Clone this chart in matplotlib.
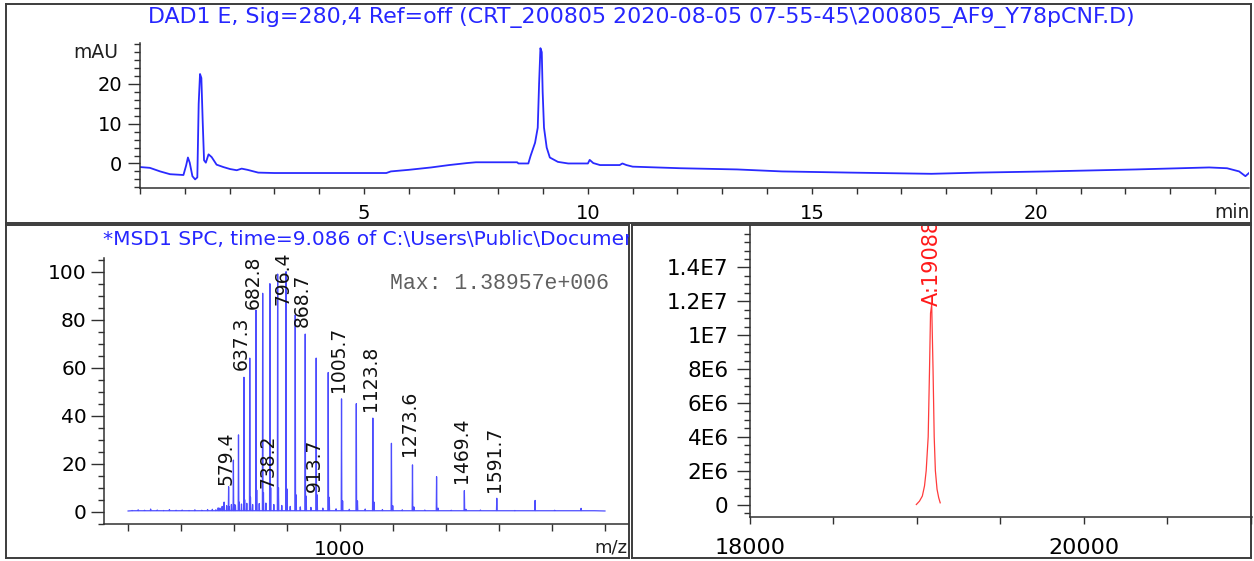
import matplotlib
matplotlib.use("Agg")
import matplotlib.pyplot as plt
from matplotlib.ticker import MultipleLocator
import numpy as np

plt.rcParams["font.family"] = ["DejaVu Sans"]

W, H = 1254, 561

# ── DAD chromatogram (280 nm) ──
dad_time = [0.0, 0.22, 0.45, 0.67, 0.97, 1.03, 1.07, 1.11, 1.17, 1.23, 1.28, 1.31,
            1.34, 1.37, 1.40, 1.43, 1.47, 1.53, 1.60, 1.71, 1.86, 2.01, 2.16, 2.27,
            2.40, 2.64, 3.0, 5.5, 5.6, 6.0, 6.5, 6.9, 7.3, 7.5, 8.42, 8.45, 8.67,
            8.72, 8.82, 8.88, 8.91, 8.94, 8.97, 8.99, 9.02, 9.08, 9.15, 9.33, 9.56,
            10.0, 10.04, 10.12, 10.27, 10.71, 10.77, 10.86, 11.0, 12.07, 13.33,
            14.33, 15.87, 17.67, 18.71, 20.25, 22.24, 23.87, 24.27, 24.54, 24.68, 24.77]
dad_mau = [-0.9, -1.1, -2.0, -2.7, -2.9, -0.5, 1.5, 0.2, -3.2, -4.0, -3.5, 15.0,
           22.5, 21.5, 10.5, 0.8, 0.2, 2.3, 1.6, -0.3, -0.9, -1.4, -1.7, -1.3,
           -1.6, -2.3, -2.4, -2.4, -2.0, -1.6, -1.0, -0.4, 0.1, 0.3, 0.3, 0.0, 0.0,
           1.9, 5.2, 9.0, 20.0, 29.0, 28.0, 18.0, 9.0, 4.0, 1.5, 0.4, 0.0,
           0.0, 0.9, 0.1, -0.4, -0.4, 0.0, -0.4, -0.8, -1.2, -1.5,
           -2.0, -2.3, -2.6, -2.3, -2.0, -1.5, -1.0, -1.2, -2.0, -3.2, -2.3]
dad_yticks = [0, 10, 20]
dad_xticks = [5, 10, 15, 20]
dad_title = "DAD1 E, Sig=280,4 Ref=off (CRT_200805 2020-08-05 07-55-45\\200805_AF9_Y78pCNF.D)"

# ── MS spectrum at 9.086 min (charge-state envelope, % of max) ──
ms_mz = [531.2, 546.4, 562.4, 579.4, 597.5, 616.7, 637.3, 659.2, 682.7, 708.0,
         735.2, 764.5, 796.3, 830.9, 868.6, 910.0, 955.4, 1005.6, 1061.4, 1123.8,
         1194.0, 1273.5, 1364.4, 1469.3, 1591.7, 1736.3, 1909.8]
ms_int = [0.8, 1.5, 4.0, 10.4, 21.5, 32.0, 56.0, 64.0, 84.0, 91.0,
          95.0, 99.0, 100.0, 82.0, 74.0, 64.0, 58.0, 47.0, 45.0, 39.0,
          28.5, 19.5, 14.6, 8.8, 5.6, 4.7, 1.4]
# adduct peaks
add_mz = [581.8, 599.9, 619.2, 639.9, 661.9, 685.5, 710.9, 738.2, 767.6, 799.6,
          834.3, 872.2, 913.7, 959.3, 1009.7, 1065.8, 1128.4, 1198.9, 1278.7,
          1370.0, 1475.3]
add_int = [2.0, 3.0, 4.0, 5.0, 6.0, 9.0, 8.0, 10.0, 10.0, 9.5,
           7.0, 6.5, 7.0, 6.0, 4.5, 4.5, 4.0, 2.5, 2.0, 1.5, 1.0]
# baseline noise
noise_mz = [215, 238, 262, 285, 310, 334, 356, 381, 404, 430, 452, 478, 500, 518,
            540, 555, 572, 590, 605, 628, 648, 670, 695, 720, 750, 780, 812, 850,
            890, 935, 985, 1035, 1095, 1160, 1235, 1320, 1420, 1530, 1660, 1810, 1960]
noise_int = [0.5, 0.8, 0.6, 1.1, 0.7, 0.5, 0.9, 0.6, 0.7, 0.5, 0.8, 0.6, 0.9, 1.0,
             1.6, 2.2, 2.5, 3.0, 2.8, 3.2, 3.5, 3.0, 3.4, 3.6, 3.0, 2.6, 2.2, 2.0,
             1.8, 1.5, 1.2, 1.0, 1.1, 0.9, 0.8, 0.7, 0.6, 0.7, 0.5, 0.6, 0.4]
ms_labels = ["579.4", "637.3", "682.8", "738.2", "796.4", "868.7", "913.7",
             "1005.7", "1123.8", "1273.6", "1469.4", "1591.7"]
ms_label_y = [11, 59, 84.5, 10, 86, 77, 8, 50, 42, 23, 12, 8.3]
ms_xticks = [200, 400, 600, 800, 1000, 1200, 1400, 1600, 1800, 2000]
ms_xticklabels = ["", "", "", "", "1000", "", "", "", "", ""]
ms_title = "*MSD1 SPC, time=9.086 of C:\\Users\\Public\\Documents\\ChemStation\\1\\Data"
ms_max = "Max: 1.38957e+006"

# ── deconvoluted mass ──
dec_mass = [18996, 19015, 19032, 19045, 19055, 19067, 19075, 19081, 19088,
            19096, 19103, 19110, 19120, 19130, 19139]
dec_int = [0.0, 0.2e6, 0.5e6, 1.1e6, 2.0e6, 4.0e6, 8.0e6, 11.3e6, 11.8e6,
           8.0e6, 4.0e6, 2.0e6, 0.9e6, 0.4e6, 0.1e6]
dec_label = "A:19088"
dec_yticks = [0, 2e6, 4e6, 6e6, 8e6, 1e7, 1.2e7, 1.4e7]
dec_yticklabels = ["0", "2E6", "4E6", "6E6", "8E6", "1E7", "1.2E7", "1.4E7"]
dec_xticks = [18000, 20000]

INK = "#303030"
PT = 0.72  # px -> pt at 100 dpi

fig = plt.figure(figsize=(W / 100, H / 100), dpi=100)


def rect(x0, y0, x1, y1):
    return [x0 / W, 1 - y1 / H, (x1 - x0) / W, (y1 - y0) / H]


def frame(x0, y0, x1, y1):
    ax = fig.add_axes(rect(x0, y0, x1, y1), zorder=0)
    ax.set_xticks([])
    ax.set_yticks([])
    for s in ax.spines.values():
        s.set_color("#3c3c3c")
        s.set_linewidth(1.4)
    return ax


def style(ax):
    ax.patch.set_alpha(0)
    ax.spines["top"].set_visible(False)
    ax.spines["right"].set_visible(False)
    for s in ("left", "bottom"):
        ax.spines[s].set_color(INK)
        ax.spines[s].set_linewidth(1.1)


# ── panel frames ──
f_top = frame(6, 4, 1251, 223)
f_ms = frame(6, 225, 629, 558)
f_dec = frame(632, 225, 1251, 558)

f_top.text(0.51, 0.937, dad_title, transform=f_top.transAxes, ha="center", va="center",
           color="#2626ff", fontsize=15.9, clip_on=True)
f_ms.text(0.155, 0.955, ms_title, transform=f_ms.transAxes, ha="left", va="center",
          color="#2626ff", fontsize=14.5, clip_on=True)

# ── top: chromatogram ──
ax1 = fig.add_axes(rect(140, 43, 1249, 188), zorder=2)
style(ax1)
ax1.plot(dad_time, dad_mau, color="#2a2aff", linewidth=1.3)
ax1.set_xlim(0, 24.76)
ax1.set_ylim(-6.17, 30.3)
ax1.set_xticks(dad_xticks)
ax1.xaxis.set_minor_locator(MultipleLocator(1))
ax1.set_yticks(dad_yticks)
ax1.yaxis.set_minor_locator(MultipleLocator(2))
ax1.tick_params(axis="x", which="both", length=6 * PT, width=1.0, color=INK,
                labelsize=14, pad=7)
ax1.tick_params(axis="y", which="major", length=12 * PT, width=1.0, color=INK,
                labelsize=14, pad=4)
ax1.tick_params(axis="y", which="minor", length=6 * PT, width=1.0, color=INK)
fig.text(118 / W, 1 - 52 / H, "mAU", ha="right", va="center", fontsize=13.5, color="#202020")
fig.text(1250 / W, 1 - 212 / H, "min", ha="right", va="center", fontsize=13.5, color="#202020")

# ── bottom-left: MS spectrum ──
ax2 = fig.add_axes(rect(104, 258, 628, 524.3), zorder=2)
style(ax2)
sticks = sorted(zip(ms_mz + add_mz + noise_mz, ms_int + add_int + noise_int))
prof_x, prof_y = [200.0], [0.3]
for mz, h in sticks:
    prof_x += [mz - 1.2, mz, mz + 1.2]
    prof_y += [0.4, h, 0.4]
prof_x.append(2000.0)
prof_y.append(0.3)
ax2.plot(prof_x, prof_y, color="#2020ff", linewidth=0.9, alpha=0.8)
for lab, ly in zip(ms_labels, ms_label_y):
    ax2.text(float(lab) - 10, ly, lab, rotation=90, ha="center", va="bottom",
             fontsize=13.5, color="#111111")
ax2.set_xlim(109, 2087)
ax2.set_ylim(-5.25, 105.7)
ax2.set_xticks(ms_xticks, ms_xticklabels)
ax2.yaxis.set_major_locator(MultipleLocator(20))
ax2.yaxis.set_minor_locator(MultipleLocator(5))
ax2.tick_params(axis="x", length=7 * PT, width=1.0, color=INK, labelsize=14.5, pad=6)
ax2.tick_params(axis="y", which="major", length=13 * PT, width=1.0, color=INK,
                labelsize=14.5, pad=3)
ax2.tick_params(axis="y", which="minor", length=6 * PT, width=1.0, color=INK)
ax2.text(0.545, 0.905, ms_max, transform=ax2.transAxes, ha="left", va="center",
         family="Liberation Mono", fontsize=15.5, color="#606060")
fig.text(627 / W, 1 - 548 / H, "m/z", ha="right", va="center", fontsize=13, color="#202020")

# ── bottom-right: deconvoluted mass ──
ax3 = fig.add_axes(rect(750, 226, 1252, 516.7), zorder=2)
style(ax3)
ax3.plot(dec_mass, dec_int, color="#ff3b3b", linewidth=0.9)
ax3.text(19088, 11.75e6, dec_label, rotation=90, ha="center", va="bottom",
         fontsize=15, color="#ff1a1a", clip_on=True)
ax3.set_xlim(18000, 21006)
ax3.set_ylim(-0.72e6, 16.45e6)
ax3.set_xticks(dec_xticks)
ax3.xaxis.set_minor_locator(MultipleLocator(500))
ax3.set_yticks(dec_yticks, dec_yticklabels)
ax3.yaxis.set_minor_locator(MultipleLocator(5e5))
ax3.tick_params(axis="x", which="both", length=7 * PT, width=1.0, color=INK,
                labelsize=16, pad=10)
ax3.tick_params(axis="y", which="major", length=13 * PT, width=1.0, color=INK,
                labelsize=15.5, pad=6)
ax3.tick_params(axis="y", which="minor", length=6 * PT, width=1.0, color=INK)

fig.savefig("out.png", dpi=100)
